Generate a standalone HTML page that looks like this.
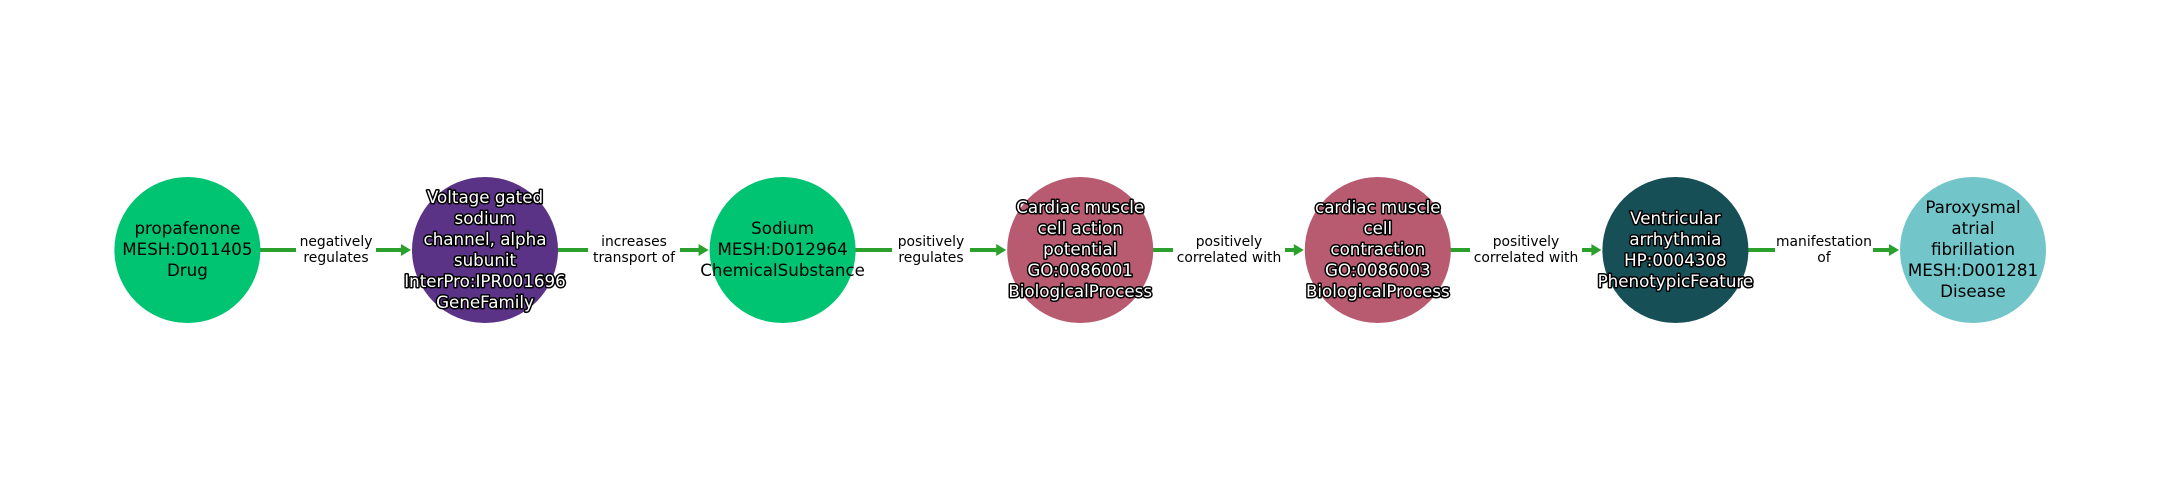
<!DOCTYPE html>
<html><head><meta charset="utf-8"><style>
html,body{margin:0;padding:0;background:#fff;}
svg{display:block;}
text{font-family:"DejaVu Sans","Liberation Sans",sans-serif;}
.n{font-size:16.7px;text-anchor:middle;}
.w{fill:#fff;stroke:#000;stroke-width:3px;paint-order:stroke;stroke-linejoin:round;}
.b{fill:#000;}
.e{font-size:13.9px;text-anchor:middle;fill:#000;}
</style></head><body>
<svg width="2160" height="500" viewBox="0 0 2160 500" xmlns="http://www.w3.org/2000/svg">
<defs>
<g id="edge">
<line x1="0" y1="250" x2="144" y2="250" stroke="#2ca02c" stroke-width="4"/>
<polygon points="142,244 152,250 142,256" fill="#2ca02c"/>
</g>
</defs>
<g>
<use href="#edge" x="259"/>
<use href="#edge" x="556.6"/>
<use href="#edge" x="854.2"/>
<use href="#edge" x="1151.8"/>
<use href="#edge" x="1449.4"/>
<use href="#edge" x="1747"/>
</g>
<g fill="#fff">
<rect x="296" y="230" width="80" height="38"/>
<rect x="588" y="230" width="92" height="38"/>
<rect x="892" y="230" width="78" height="38"/>
<rect x="1173" y="230" width="112" height="38"/>
<rect x="1470" y="230" width="112" height="38"/>
<rect x="1775" y="230" width="98" height="38"/>
</g>
<g class="e">
<text x="336" y="246">negatively</text><text x="336" y="262">regulates</text>
<text x="634" y="246">increases</text><text x="634" y="262">transport of</text>
<text x="931" y="246">positively</text><text x="931" y="262">regulates</text>
<text x="1229" y="246">positively</text><text x="1229" y="262">correlated with</text>
<text x="1526" y="246">positively</text><text x="1526" y="262">correlated with</text>
<text x="1824" y="246">manifestation</text><text x="1824" y="262">of</text>
</g>
<circle cx="187.4" cy="250" r="73" fill="#00c472"/>
<circle cx="485" cy="250" r="73" fill="#5a3286"/>
<circle cx="782.6" cy="250" r="73" fill="#00c472"/>
<circle cx="1080.2" cy="250" r="73" fill="#b85b70"/>
<circle cx="1377.8" cy="250" r="73" fill="#b85b70"/>
<circle cx="1675.4" cy="250" r="73" fill="#174f57"/>
<circle cx="1973" cy="250" r="73" fill="#72c6ca"/>
<g class="n b">
<text x="187.4" y="234">propafenone</text><text x="187.4" y="255">MESH:D011405</text><text x="187.4" y="276">Drug</text>
<text x="782.6" y="234">Sodium</text><text x="782.6" y="255">MESH:D012964</text><text x="782.6" y="276">ChemicalSubstance</text>
<text x="1973" y="213">Paroxysmal</text><text x="1973" y="234">atrial</text><text x="1973" y="255">fibrillation</text><text x="1973" y="276">MESH:D001281</text><text x="1973" y="297">Disease</text>
</g>
<g class="n w">
<text x="485" y="203">Voltage gated</text><text x="485" y="224">sodium</text><text x="485" y="245">channel, alpha</text><text x="485" y="266">subunit</text><text x="485" y="287">InterPro:IPR001696</text><text x="485" y="308">GeneFamily</text>
<text x="1080.2" y="213">Cardiac muscle</text><text x="1080.2" y="234">cell action</text><text x="1080.2" y="255">potential</text><text x="1080.2" y="276">GO:0086001</text><text x="1080.2" y="297">BiologicalProcess</text>
<text x="1377.8" y="213">cardiac muscle</text><text x="1377.8" y="234">cell</text><text x="1377.8" y="255">contraction</text><text x="1377.8" y="276">GO:0086003</text><text x="1377.8" y="297">BiologicalProcess</text>
<text x="1675.4" y="224">Ventricular</text><text x="1675.4" y="245">arrhythmia</text><text x="1675.4" y="266">HP:0004308</text><text x="1675.4" y="287">PhenotypicFeature</text>
</g>
</svg>
</body></html>
